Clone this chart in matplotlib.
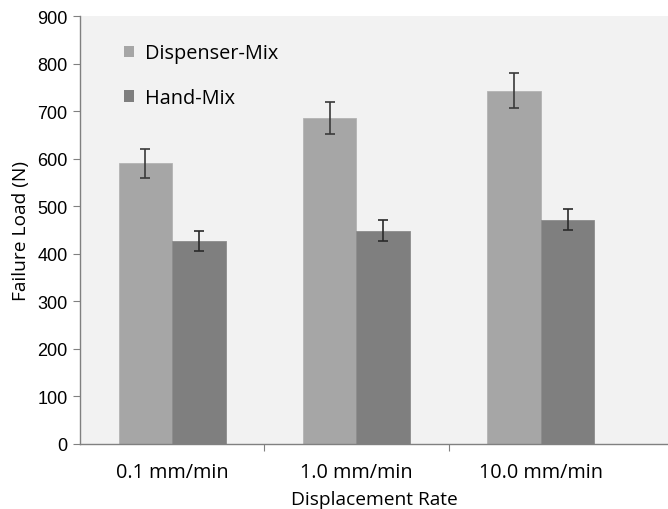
import numpy as np
import matplotlib
matplotlib.use("Agg")
import matplotlib.pyplot as plt

rates = ["0.1 mm/min", "1.0 mm/min", "10.0 mm/min"]
dispenser = [590, 685, 743]
dispenser_err = [30, 34, 37]
hand = [427, 448, 472]
hand_err = [21, 22, 23]

label_font = ["Open Sans", "DejaVu Sans"]

fig = plt.figure(figsize=(6.68, 5.1), dpi=100)
ax = fig.add_axes([80 / 668, 65 / 510, 588 / 668, 428 / 510])
ax.set_facecolor("#f2f2f2")

x = np.arange(len(rates))
w = 0.29
ax.bar(x - w / 2, dispenser, w, color="#a6a6a6", edgecolor="#b4b4b4", linewidth=0.6,
       label="Dispenser-Mix", zorder=2)
ax.bar(x + w / 2, hand, w, color="#7f7f7f", edgecolor="#8c8c8c", linewidth=0.6,
       label="Hand-Mix", zorder=2)
ax.errorbar(x - w / 2, dispenser, yerr=dispenser_err, fmt="none", ecolor="#3a3a3a",
            elinewidth=1.2, capsize=3.5, capthick=1.2, zorder=3)
ax.errorbar(x + w / 2, hand, yerr=hand_err, fmt="none", ecolor="#2a2a2a",
            elinewidth=1.2, capsize=3.5, capthick=1.2, zorder=3)

ax.set_ylim(0, 900)
ax.set_xlim(-0.5, 2.69)
ax.set_yticks(range(0, 901, 100))
for t in ax.get_yticklabels():
    t.set_family("Liberation Sans")
    t.set_fontsize(13)

# category ticks sit on the group boundaries, labels in the middle
ax.set_xticks([0.5, 1.5], minor=False)
ax.set_xticklabels([])
ax.set_xticks(x, minor=True)
ax.set_xticklabels(rates, minor=True, family=label_font, fontsize=14.3)
ax.tick_params(axis="x", which="minor", length=0, pad=13)
ax.tick_params(axis="x", which="major", length=5, color="#808080", direction="out")
ax.tick_params(axis="y", length=5, color="#808080", pad=4)

for s in ["top", "right"]:
    ax.spines[s].set_visible(False)
for s in ["left", "bottom"]:
    ax.spines[s].set_color("#808080")
    ax.spines[s].set_linewidth(1.0)

ax.set_ylabel("Failure Load (N)", family=label_font, fontsize=13.8, labelpad=5)
ax.set_xlabel("Displacement Rate", family=label_font, fontsize=13.8, labelpad=6)

leg = ax.legend(loc="upper left", bbox_to_anchor=(0.045, 0.978), frameon=False,
                prop={"family": label_font, "size": 14.3}, handlelength=0.5,
                handleheight=0.5, handletextpad=0.55, labelspacing=1.25)
for h in leg.legend_handles:
    h.set_edgecolor("none")

fig.savefig("out.png", dpi=100)
